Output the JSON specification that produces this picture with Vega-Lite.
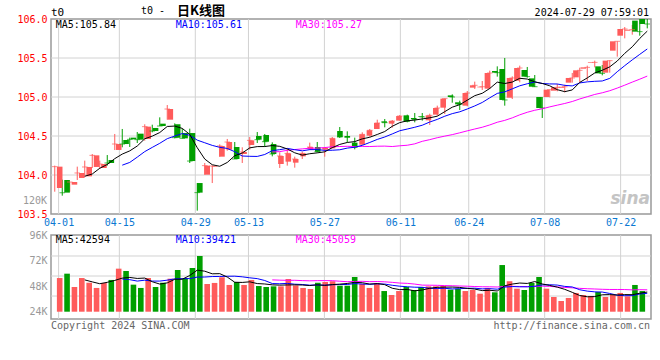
{
"$schema": "https://vega.github.io/schema/vega-lite/v6.json",
"background": "#ffffff",
"padding": {"left": 16, "top": 4, "right": 10, "bottom": 0},
"bounds": "flush",
"spacing": 21,
"config": {
  "view": {"stroke": "#999999", "strokeWidth": 1.5},
  "font": "DejaVu Sans Mono",
  "axis": {"labelFont": "DejaVu Sans Mono", "labelFontSize": 10, "domain": false, "ticks": false, "grid": false, "labelFlush": false, "labelOverlap": false},
  "text": {"font": "DejaVu Sans Mono", "fontSize": 10}
},
"datasets": {
  "k": [
    {"i":0,"d":"2024-03-29","o":103.833,"h":104.12,"l":103.786,"c":104.107,"v":55600},
    {"i":1,"d":"2024-04-01","o":103.936,"h":103.94,"l":103.735,"c":103.774,"v":59700},
    {"i":2,"d":"2024-04-02","o":103.876,"h":103.91,"l":103.786,"c":103.91,"v":47200},
    {"i":3,"d":"2024-04-03","o":103.962,"h":104.107,"l":103.936,"c":104.026,"v":55600},
    {"i":4,"d":"2024-04-08","o":103.983,"h":104.184,"l":103.975,"c":104.103,"v":51200},
    {"i":5,"d":"2024-04-09","o":104.103,"h":104.269,"l":104.09,"c":104.252,"v":46300},
    {"i":6,"d":"2024-04-10","o":104.09,"h":104.184,"l":104.077,"c":104.141,"v":51000},
    {"i":7,"d":"2024-04-11","o":104.192,"h":104.256,"l":104.12,"c":104.154,"v":53800},
    {"i":8,"d":"2024-04-12","o":104.321,"h":104.526,"l":104.32,"c":104.397,"v":64400},
    {"i":9,"d":"2024-04-15","o":104.449,"h":104.59,"l":104.355,"c":104.397,"v":62200},
    {"i":10,"d":"2024-04-16","o":104.479,"h":104.479,"l":104.359,"c":104.457,"v":49400},
    {"i":11,"d":"2024-04-17","o":104.53,"h":104.551,"l":104.41,"c":104.453,"v":46300},
    {"i":12,"d":"2024-04-18","o":104.462,"h":104.65,"l":104.44,"c":104.62,"v":55600},
    {"i":13,"d":"2024-04-19","o":104.603,"h":104.645,"l":104.547,"c":104.564,"v":47200},
    {"i":14,"d":"2024-04-22","o":104.658,"h":104.739,"l":104.628,"c":104.628,"v":51200},
    {"i":15,"d":"2024-04-23","o":104.709,"h":104.897,"l":104.709,"c":104.846,"v":55000},
    {"i":16,"d":"2024-04-24","o":104.65,"h":104.662,"l":104.47,"c":104.479,"v":63200},
    {"i":17,"d":"2024-04-25","o":104.538,"h":104.594,"l":104.47,"c":104.47,"v":55600},
    {"i":18,"d":"2024-04-26","o":104.538,"h":104.594,"l":104.154,"c":104.179,"v":65000},
    {"i":19,"d":"2024-04-29","o":103.897,"h":103.897,"l":103.543,"c":103.774,"v":76300},
    {"i":20,"d":"2024-04-30","o":104.004,"h":104.154,"l":104.004,"c":104.12,"v":50000},
    {"i":21,"d":"2024-05-06","o":104.107,"h":104.12,"l":103.897,"c":104.115,"v":51000},
    {"i":22,"d":"2024-05-07","o":104.235,"h":104.393,"l":104.235,"c":104.372,"v":56300},
    {"i":23,"d":"2024-05-08","o":104.325,"h":104.462,"l":104.312,"c":104.423,"v":49100},
    {"i":24,"d":"2024-05-09","o":104.359,"h":104.423,"l":104.205,"c":104.205,"v":51900},
    {"i":25,"d":"2024-05-10","o":104.269,"h":104.355,"l":104.154,"c":104.295,"v":49100},
    {"i":26,"d":"2024-05-13","o":104.385,"h":104.487,"l":104.325,"c":104.444,"v":53800},
    {"i":27,"d":"2024-05-14","o":104.5,"h":104.551,"l":104.41,"c":104.453,"v":48100},
    {"i":28,"d":"2024-05-15","o":104.513,"h":104.526,"l":104.363,"c":104.427,"v":47200},
    {"i":29,"d":"2024-05-16","o":104.397,"h":104.419,"l":104.239,"c":104.269,"v":47800},
    {"i":30,"d":"2024-05-17","o":104.141,"h":104.291,"l":104.09,"c":104.244,"v":47800},
    {"i":31,"d":"2024-05-20","o":104.171,"h":104.333,"l":104.12,"c":104.278,"v":54700},
    {"i":32,"d":"2024-05-21","o":104.158,"h":104.235,"l":104.094,"c":104.205,"v":48700},
    {"i":33,"d":"2024-05-22","o":104.239,"h":104.299,"l":104.205,"c":104.278,"v":46300},
    {"i":34,"d":"2024-05-23","o":104.329,"h":104.415,"l":104.32,"c":104.359,"v":45300},
    {"i":35,"d":"2024-05-24","o":104.359,"h":104.423,"l":104.291,"c":104.299,"v":51200},
    {"i":36,"d":"2024-05-27","o":104.325,"h":104.359,"l":104.235,"c":104.346,"v":51900},
    {"i":37,"d":"2024-05-28","o":104.342,"h":104.487,"l":104.342,"c":104.47,"v":52600},
    {"i":38,"d":"2024-05-29","o":104.564,"h":104.615,"l":104.474,"c":104.487,"v":48400},
    {"i":39,"d":"2024-05-30","o":104.5,"h":104.56,"l":104.419,"c":104.483,"v":48400},
    {"i":40,"d":"2024-05-31","o":104.415,"h":104.479,"l":104.329,"c":104.355,"v":56600},
    {"i":41,"d":"2024-06-03","o":104.389,"h":104.547,"l":104.389,"c":104.521,"v":50000},
    {"i":42,"d":"2024-06-04","o":104.504,"h":104.59,"l":104.491,"c":104.573,"v":46300},
    {"i":43,"d":"2024-06-05","o":104.59,"h":104.709,"l":104.59,"c":104.667,"v":50700},
    {"i":44,"d":"2024-06-06","o":104.688,"h":104.718,"l":104.611,"c":104.671,"v":43400},
    {"i":45,"d":"2024-06-07","o":104.658,"h":104.705,"l":104.607,"c":104.692,"v":39700},
    {"i":46,"d":"2024-06-11","o":104.697,"h":104.769,"l":104.697,"c":104.756,"v":43400},
    {"i":47,"d":"2024-06-12","o":104.765,"h":104.774,"l":104.675,"c":104.688,"v":47200},
    {"i":48,"d":"2024-06-13","o":104.731,"h":104.795,"l":104.675,"c":104.714,"v":44400},
    {"i":49,"d":"2024-06-14","o":104.752,"h":104.795,"l":104.697,"c":104.744,"v":47200},
    {"i":50,"d":"2024-06-17","o":104.701,"h":104.786,"l":104.641,"c":104.765,"v":47800},
    {"i":51,"d":"2024-06-18","o":104.774,"h":104.889,"l":104.761,"c":104.859,"v":47800},
    {"i":52,"d":"2024-06-19","o":104.863,"h":104.979,"l":104.782,"c":104.979,"v":48100},
    {"i":53,"d":"2024-06-20","o":105.021,"h":105.034,"l":104.927,"c":105.0,"v":44700},
    {"i":54,"d":"2024-06-21","o":104.932,"h":104.953,"l":104.833,"c":104.906,"v":45600},
    {"i":55,"d":"2024-06-24","o":104.889,"h":105.077,"l":104.88,"c":105.051,"v":43400},
    {"i":56,"d":"2024-06-25","o":105.12,"h":105.197,"l":105.103,"c":105.15,"v":44400},
    {"i":57,"d":"2024-06-26","o":105.124,"h":105.205,"l":105.09,"c":105.132,"v":40900},
    {"i":58,"d":"2024-06-27","o":105.107,"h":105.338,"l":105.107,"c":105.308,"v":46300},
    {"i":59,"d":"2024-06-28","o":105.333,"h":105.393,"l":105.261,"c":105.312,"v":42200},
    {"i":60,"d":"2024-07-01","o":105.359,"h":105.5,"l":104.889,"c":104.962,"v":67800},
    {"i":61,"d":"2024-07-02","o":104.991,"h":105.265,"l":104.974,"c":105.244,"v":52600},
    {"i":62,"d":"2024-07-03","o":105.209,"h":105.402,"l":105.188,"c":105.372,"v":45600},
    {"i":63,"d":"2024-07-04","o":105.346,"h":105.385,"l":105.248,"c":105.261,"v":44400},
    {"i":64,"d":"2024-07-05","o":105.239,"h":105.282,"l":105.128,"c":105.132,"v":51000},
    {"i":65,"d":"2024-07-08","o":105.0,"h":105.0,"l":104.731,"c":104.859,"v":56600},
    {"i":66,"d":"2024-07-09","o":105.0,"h":105.094,"l":104.996,"c":105.094,"v":45600},
    {"i":67,"d":"2024-07-10","o":105.081,"h":105.167,"l":105.073,"c":105.124,"v":37800},
    {"i":68,"d":"2024-07-11","o":105.12,"h":105.158,"l":105.06,"c":105.132,"v":34000},
    {"i":69,"d":"2024-07-12","o":105.184,"h":105.308,"l":105.184,"c":105.244,"v":36900},
    {"i":70,"d":"2024-07-15","o":105.252,"h":105.376,"l":105.188,"c":105.342,"v":41600},
    {"i":71,"d":"2024-07-16","o":105.363,"h":105.402,"l":105.205,"c":105.38,"v":39700},
    {"i":72,"d":"2024-07-17","o":105.436,"h":105.466,"l":105.38,"c":105.444,"v":38700},
    {"i":73,"d":"2024-07-18","o":105.393,"h":105.41,"l":105.278,"c":105.303,"v":42500},
    {"i":74,"d":"2024-07-19","o":105.312,"h":105.47,"l":105.312,"c":105.466,"v":37800},
    {"i":75,"d":"2024-07-22","o":105.594,"h":105.714,"l":105.517,"c":105.714,"v":39700},
    {"i":76,"d":"2024-07-23","o":105.786,"h":105.897,"l":105.752,"c":105.872,"v":41600},
    {"i":77,"d":"2024-07-24","o":105.85,"h":105.923,"l":105.799,"c":105.863,"v":38400},
    {"i":78,"d":"2024-07-25","o":105.979,"h":106.0,"l":105.786,"c":105.838,"v":49100},
    {"i":79,"d":"2024-07-26","o":106.0,"h":106.02,"l":105.88,"c":105.936,"v":43400}
  ]
},
"vconcat": [
  {
    "width": 600,
    "height": 195,
    "data": {"name": "k"},
    "layer": [
      {
        "mark": {"type": "point", "opacity": 0},
        "encoding": {
          "x": {"field": "d", "type": "ordinal", "scale": {"type": "point", "padding": 0},
                "axis": {"title": null, "orient": "bottom", "grid": false, "values": ["2024-04-01","2024-04-15","2024-04-29","2024-05-13","2024-05-27","2024-06-11","2024-06-24","2024-07-08","2024-07-22"], "labelExpr": "slice(datum.value, 5)", "labelColor": "#0a78d2", "labelPadding": 3, "labelAngle": 0}},
          "y": {"field": "c", "type": "quantitative", "scale": {"domain": [103.5, 106], "nice": false, "zero": false},
                "axis": {"title": null, "orient": "left", "grid": false, "values": [103.5, 104, 104.5, 105, 105.5, 106], "format": ".1f", "labelColor": "#ff0000", "labelPadding": 4}}
        }
      },
      {
        "transform": [{"filter": {"field": "i", "oneOf": [1, 9, 19, 26, 36, 46, 55, 65, 75]}}],
        "mark": {"type": "rule", "color": "#d2d2d2", "strokeWidth": 1},
        "encoding": {
          "x": {"field": "i", "type": "quantitative", "scale": {"domain": [0, 79], "nice": false, "zero": false}, "axis": null}
        }
      },
      {
        "data": {"values": [{}]},
        "mark": {"type": "rule", "color": "#d2d2d2", "strokeWidth": 1},
        "encoding": {"y": {"datum": 104, "type": "quantitative", "scale": {"domain": [103.5, 106], "nice": false, "zero": false}, "axis": null}}
      },
      {
        "data": {"values": [{}]},
        "mark": {"type": "rule", "color": "#d2d2d2", "strokeWidth": 1},
        "encoding": {"y": {"datum": 104.5, "type": "quantitative", "scale": {"domain": [103.5, 106], "nice": false, "zero": false}, "axis": null}}
      },
      {
        "data": {"values": [{}]},
        "mark": {"type": "rule", "color": "#d2d2d2", "strokeWidth": 1},
        "encoding": {"y": {"datum": 105, "type": "quantitative", "scale": {"domain": [103.5, 106], "nice": false, "zero": false}, "axis": null}}
      },
      {
        "data": {"values": [{}]},
        "mark": {"type": "rule", "color": "#d2d2d2", "strokeWidth": 1},
        "encoding": {"y": {"datum": 105.5, "type": "quantitative", "scale": {"domain": [103.5, 106], "nice": false, "zero": false}, "axis": null}}
      },
      {
        "mark": {"type": "rule", "strokeWidth": 1, "clip": true},
        "encoding": {
          "x": {"field": "i", "type": "quantitative", "scale": {"domain": [-0.5, 79.5], "nice": false, "zero": false}, "axis": null},
          "y": {"field": "l", "type": "quantitative", "scale": {"domain": [103.5, 106], "nice": false, "zero": false}, "axis": null},
          "y2": {"field": "h"},
          "color": {"condition": {"test": "datum.c >= datum.o", "value": "#ff5b5b"}, "value": "#009f00"}
        }
      },
      {
        "mark": {"type": "bar", "width": 5.6, "clip": true},
        "encoding": {
          "x": {"field": "i", "type": "quantitative", "scale": {"domain": [-0.5, 79.5], "nice": false, "zero": false}, "axis": null},
          "y": {"field": "o", "type": "quantitative", "scale": {"domain": [103.5, 106], "nice": false, "zero": false}, "axis": null},
          "y2": {"field": "c"},
          "color": {"condition": {"test": "datum.c >= datum.o", "value": "#ff5b5b"}, "value": "#009f00"}
        }
      },
      {
        "mark": {"type": "tick", "orient": "horizontal", "size": 5.6, "thickness": 1, "clip": true},
        "encoding": {
          "x": {"field": "i", "type": "quantitative", "scale": {"domain": [-0.5, 79.5], "nice": false, "zero": false}, "axis": null},
          "y": {"field": "c", "type": "quantitative", "scale": {"domain": [103.5, 106], "nice": false, "zero": false}, "axis": null},
          "color": {"condition": {"test": "datum.c >= datum.o", "value": "#ff5b5b"}, "value": "#009f00"}
        }
      },
      {
        "transform": [{"window": [{"op": "mean", "field": "c", "as": "m"}, {"op": "count", "as": "n"}], "frame": [-29, 0], "sort": [{"field": "i"}]}, {"filter": "datum.n >= 30"}],
        "mark": {"type": "line", "color": "#ff00ff", "strokeWidth": 1, "clip": true},
        "encoding": {
          "x": {"field": "i", "type": "quantitative", "scale": {"domain": [-0.5, 79.5], "nice": false, "zero": false}, "axis": null},
          "y": {"field": "m", "type": "quantitative", "scale": {"domain": [103.5, 106], "nice": false, "zero": false}, "axis": null}
        }
      },
      {
        "transform": [{"window": [{"op": "mean", "field": "c", "as": "m"}, {"op": "count", "as": "n"}], "frame": [-9, 0], "sort": [{"field": "i"}]}, {"filter": "datum.n >= 10"}],
        "mark": {"type": "line", "color": "#0000ff", "strokeWidth": 1, "clip": true},
        "encoding": {
          "x": {"field": "i", "type": "quantitative", "scale": {"domain": [-0.5, 79.5], "nice": false, "zero": false}, "axis": null},
          "y": {"field": "m", "type": "quantitative", "scale": {"domain": [103.5, 106], "nice": false, "zero": false}, "axis": null}
        }
      },
      {
        "transform": [{"window": [{"op": "mean", "field": "c", "as": "m"}, {"op": "count", "as": "n"}], "frame": [-4, 0], "sort": [{"field": "i"}]}, {"filter": "datum.n >= 5"}],
        "mark": {"type": "line", "color": "#000000", "strokeWidth": 1, "clip": true},
        "encoding": {
          "x": {"field": "i", "type": "quantitative", "scale": {"domain": [-0.5, 79.5], "nice": false, "zero": false}, "axis": null},
          "y": {"field": "m", "type": "quantitative", "scale": {"domain": [103.5, 106], "nice": false, "zero": false}, "axis": null}
        }
      },
      {
        "data": {"values": [
          {"t": "MA5:105.84", "px": 0.13, "py": 106, "col": "#000000"},
          {"t": "MA10:105.61", "px": 16.13, "py": 106, "col": "#0000ff"},
          {"t": "MA30:105.27", "px": 32.13, "py": 106, "col": "#ff00ff"}
        ]},
        "mark": {"type": "text", "align": "left", "baseline": "middle", "dy": 6},
        "encoding": {
          "x": {"field": "px", "type": "quantitative", "scale": {"domain": [-0.5, 79.5], "nice": false, "zero": false}, "axis": null},
          "y": {"field": "py", "type": "quantitative", "scale": {"domain": [103.5, 106], "nice": false, "zero": false}, "axis": null},
          "text": {"field": "t"},
          "color": {"field": "col", "type": "nominal", "scale": null, "legend": null}
        }
      },
      {
        "data": {"values": [{}]},
        "mark": {"type": "text", "text": "t0", "align": "left", "baseline": "middle", "dy": -6, "fontSize": 11, "color": "#000000"},
        "encoding": {
          "x": {"datum": -0.5, "type": "quantitative", "scale": {"domain": [-0.5, 79.5], "nice": false, "zero": false}, "axis": null},
          "y": {"datum": 106, "type": "quantitative", "scale": {"domain": [103.5, 106], "nice": false, "zero": false}, "axis": null}
        }
      },
      {
        "data": {"values": [{}]},
        "mark": {"type": "text", "text": "t0 -", "align": "left", "baseline": "middle", "dy": -8, "fontSize": 10, "color": "#000000"},
        "encoding": {
          "x": {"datum": 11.5, "type": "quantitative", "scale": {"domain": [-0.5, 79.5], "nice": false, "zero": false}, "axis": null},
          "y": {"datum": 106, "type": "quantitative", "scale": {"domain": [103.5, 106], "nice": false, "zero": false}, "axis": null}
        }
      },
      {
        "data": {"values": [{}]},
        "mark": {"type": "text", "text": "日K线图", "align": "left", "baseline": "middle", "dy": -8, "fontSize": 13, "fontWeight": "bold", "font": "Noto Sans CJK SC", "color": "#000000"},
        "encoding": {
          "x": {"datum": 16.3, "type": "quantitative", "scale": {"domain": [-0.5, 79.5], "nice": false, "zero": false}, "axis": null},
          "y": {"datum": 106, "type": "quantitative", "scale": {"domain": [103.5, 106], "nice": false, "zero": false}, "axis": null}
        }
      },
      {
        "data": {"values": [{}]},
        "mark": {"type": "text", "text": "2024-07-29 07:59:01", "align": "right", "baseline": "middle", "dy": -6, "dx": -2, "fontSize": 10, "color": "#000000"},
        "encoding": {
          "x": {"datum": 79.5, "type": "quantitative", "scale": {"domain": [-0.5, 79.5], "nice": false, "zero": false}, "axis": null},
          "y": {"datum": 106, "type": "quantitative", "scale": {"domain": [103.5, 106], "nice": false, "zero": false}, "axis": null}
        }
      },
      {
        "data": {"values": [{}]},
        "mark": {"type": "text", "text": "120K", "align": "right", "baseline": "middle", "dx": -4, "fontSize": 10, "color": "#999999"},
        "encoding": {
          "x": {"datum": -0.5, "type": "quantitative", "scale": {"domain": [-0.5, 79.5], "nice": false, "zero": false}, "axis": null},
          "y": {"datum": 103.667, "type": "quantitative", "scale": {"domain": [103.5, 106], "nice": false, "zero": false}, "axis": null}
        }
      },
      {
        "data": {"values": [{}]},
        "mark": {"type": "text", "text": "sina", "align": "right", "baseline": "bottom", "dx": -1, "dy": -6, "fontSize": 17, "fontStyle": "italic", "fontWeight": "bold", "font": "DejaVu Sans", "color": "#c4c4c4"},
        "encoding": {
          "x": {"datum": 79.5, "type": "quantitative", "scale": {"domain": [-0.5, 79.5], "nice": false, "zero": false}, "axis": null},
          "y": {"datum": 103.5, "type": "quantitative", "scale": {"domain": [103.5, 106], "nice": false, "zero": false}, "axis": null}
        }
      }
    ],
    "resolve": {"scale": {"x": "independent"}, "axis": {"y": "independent"}}
  },
  {
    "width": 600,
    "height": 84,
    "data": {"name": "k"},
    "layer": [
      {
        "mark": {"type": "point", "opacity": 0},
        "encoding": {
          "x": {"field": "d", "type": "ordinal", "scale": {"type": "point", "padding": 0}, "axis": null},
          "y": {"field": "v", "type": "quantitative", "scale": {"domain": [17150, 96000], "nice": false, "zero": false},
                "axis": {"title": null, "orient": "left", "grid": false, "values": [24000, 48000, 72000, 96000], "labelExpr": "datum.value / 1000 + 'K'", "labelColor": "#999999", "labelPadding": 4}}
        }
      },
      {
        "transform": [{"filter": {"field": "i", "oneOf": [1, 9, 19, 26, 36, 46, 55, 65, 75]}}],
        "mark": {"type": "rule", "color": "#d2d2d2", "strokeWidth": 1},
        "encoding": {
          "x": {"field": "i", "type": "quantitative", "scale": {"domain": [0, 79], "nice": false, "zero": false}, "axis": null}
        }
      },
      {
        "data": {"values": [{}]},
        "mark": {"type": "rule", "color": "#d2d2d2", "strokeWidth": 1},
        "encoding": {"y": {"datum": 38700, "type": "quantitative", "scale": {"domain": [17150, 96000], "nice": false, "zero": false}, "axis": null}}
      },
      {
        "data": {"values": [{}]},
        "mark": {"type": "rule", "color": "#d2d2d2", "strokeWidth": 1},
        "encoding": {"y": {"datum": 57500, "type": "quantitative", "scale": {"domain": [17150, 96000], "nice": false, "zero": false}, "axis": null}}
      },
      {
        "data": {"values": [{}]},
        "mark": {"type": "rule", "color": "#d2d2d2", "strokeWidth": 1},
        "encoding": {"y": {"datum": 76300, "type": "quantitative", "scale": {"domain": [17150, 96000], "nice": false, "zero": false}, "axis": null}}
      },
      {
        "mark": {"type": "bar", "width": 5.6, "clip": true},
        "encoding": {
          "x": {"field": "i", "type": "quantitative", "scale": {"domain": [-0.5, 79.5], "nice": false, "zero": false}, "axis": null},
          "y": {"field": "v", "type": "quantitative", "scale": {"domain": [17150, 96000], "nice": false, "zero": false}, "axis": null},
          "y2": {"datum": 24000},
          "color": {"condition": {"test": "datum.c >= datum.o", "value": "#ff5b5b"}, "value": "#009f00"}
        }
      },
      {
        "transform": [{"window": [{"op": "mean", "field": "v", "as": "m"}, {"op": "count", "as": "n"}], "frame": [-29, 0], "sort": [{"field": "i"}]}, {"filter": "datum.n >= 30"}],
        "mark": {"type": "line", "color": "#ff00ff", "strokeWidth": 1, "clip": true},
        "encoding": {
          "x": {"field": "i", "type": "quantitative", "scale": {"domain": [-0.5, 79.5], "nice": false, "zero": false}, "axis": null},
          "y": {"field": "m", "type": "quantitative", "scale": {"domain": [17150, 96000], "nice": false, "zero": false}, "axis": null}
        }
      },
      {
        "transform": [{"window": [{"op": "mean", "field": "v", "as": "m"}, {"op": "count", "as": "n"}], "frame": [-9, 0], "sort": [{"field": "i"}]}, {"filter": "datum.n >= 10"}],
        "mark": {"type": "line", "color": "#0000ff", "strokeWidth": 1, "clip": true},
        "encoding": {
          "x": {"field": "i", "type": "quantitative", "scale": {"domain": [-0.5, 79.5], "nice": false, "zero": false}, "axis": null},
          "y": {"field": "m", "type": "quantitative", "scale": {"domain": [17150, 96000], "nice": false, "zero": false}, "axis": null}
        }
      },
      {
        "transform": [{"window": [{"op": "mean", "field": "v", "as": "m"}, {"op": "count", "as": "n"}], "frame": [-4, 0], "sort": [{"field": "i"}]}, {"filter": "datum.n >= 5"}],
        "mark": {"type": "line", "color": "#000000", "strokeWidth": 1, "clip": true},
        "encoding": {
          "x": {"field": "i", "type": "quantitative", "scale": {"domain": [-0.5, 79.5], "nice": false, "zero": false}, "axis": null},
          "y": {"field": "m", "type": "quantitative", "scale": {"domain": [17150, 96000], "nice": false, "zero": false}, "axis": null}
        }
      },
      {
        "data": {"values": [
          {"t": "MA5:42594", "px": 0.13, "py": 96000, "col": "#000000"},
          {"t": "MA10:39421", "px": 16.13, "py": 96000, "col": "#0000ff"},
          {"t": "MA30:45059", "px": 32.13, "py": 96000, "col": "#ff00ff"}
        ]},
        "mark": {"type": "text", "align": "left", "baseline": "middle", "dy": 5},
        "encoding": {
          "x": {"field": "px", "type": "quantitative", "scale": {"domain": [-0.5, 79.5], "nice": false, "zero": false}, "axis": null},
          "y": {"field": "py", "type": "quantitative", "scale": {"domain": [17150, 96000], "nice": false, "zero": false}, "axis": null},
          "text": {"field": "t"},
          "color": {"field": "col", "type": "nominal", "scale": null, "legend": null}
        }
      },
      {
        "data": {"values": [{}]},
        "mark": {"type": "text", "text": "Copyright 2024 SINA.COM", "align": "left", "baseline": "top", "dy": 2, "fontSize": 10, "color": "#666666"},
        "encoding": {
          "x": {"datum": -0.5, "type": "quantitative", "scale": {"domain": [-0.5, 79.5], "nice": false, "zero": false}, "axis": null},
          "y": {"datum": 17150, "type": "quantitative", "scale": {"domain": [17150, 96000], "nice": false, "zero": false}, "axis": null}
        }
      },
      {
        "data": {"values": [{}]},
        "mark": {"type": "text", "text": "http://finance.sina.com.cn", "align": "right", "baseline": "top", "dy": 2, "dx": -1, "fontSize": 10, "color": "#666666"},
        "encoding": {
          "x": {"datum": 79.5, "type": "quantitative", "scale": {"domain": [-0.5, 79.5], "nice": false, "zero": false}, "axis": null},
          "y": {"datum": 17150, "type": "quantitative", "scale": {"domain": [17150, 96000], "nice": false, "zero": false}, "axis": null}
        }
      }
    ],
    "resolve": {"scale": {"x": "independent"}, "axis": {"y": "independent"}}
  }
]
}
